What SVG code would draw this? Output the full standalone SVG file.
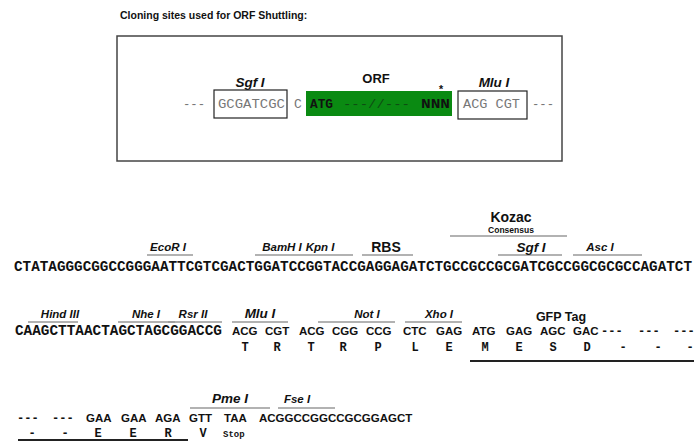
<svg xmlns="http://www.w3.org/2000/svg" width="694" height="442" viewBox="0 0 694 442">
<style>
.t{font-family:"Liberation Sans",Arial,sans-serif;font-weight:bold;fill:#111}
.lab{font-family:"Liberation Sans",Arial,sans-serif;font-weight:bold;font-style:italic;font-size:11.5px;fill:#111;text-anchor:middle}
.big{font-size:13.5px}
.mono{font-family:"Liberation Mono","Courier New",monospace;font-weight:bold;fill:#111}
.seq{font-size:14.3px}
.cod{font-family:"Liberation Sans",Arial,sans-serif;font-weight:bold;font-size:11.5px;fill:#111}
.aa{font-family:"Liberation Mono","Courier New",monospace;font-weight:bold;font-size:12px;fill:#111;text-anchor:middle}
.ul{stroke:#999;stroke-width:1.5}
.gray{font-family:"Liberation Mono","Courier New",monospace;font-size:13px;fill:#777}
.box{fill:#fff;stroke:#222;stroke-width:1.2}
</style>
<rect width="694" height="442" fill="#fff"/>

<g id="title">
<text class="t" x="120" y="19" font-size="10.5">Cloning sites used for ORF Shuttling:</text>
</g>

<g id="orf-panel">
<rect x="117" y="36" width="445" height="125" fill="none" stroke="#444" stroke-width="1.5"/>
<text class="lab big" x="250" y="87">Sgf I</text>
<text class="t" x="376" y="83" font-size="13" text-anchor="middle">ORF</text>
<text class="lab big" x="494" y="87">Mlu I</text>
<text class="gray" x="183" y="108" textLength="22" lengthAdjust="spacingAndGlyphs">---</text>
<rect class="box" x="214" y="90" width="73" height="28"/>
<text class="gray" x="218" y="108" textLength="67" lengthAdjust="spacingAndGlyphs">GCGATCGC</text>
<text class="gray" x="294" y="108">C</text>
<rect x="306" y="91" width="146" height="25" fill="#0a8a12"/>
<text class="mono" x="310" y="108" font-size="13" textLength="23" lengthAdjust="spacingAndGlyphs">ATG</text>
<text x="343" y="108" font-family="Liberation Mono,monospace" font-size="13" fill="#0e4d12" textLength="67" lengthAdjust="spacingAndGlyphs">---//---</text>
<text class="mono" x="421" y="108" font-size="13" textLength="29" lengthAdjust="spacingAndGlyphs">NNN</text>
<text class="mono" x="441" y="93" font-size="11" text-anchor="middle">*</text>
<rect class="box" x="458" y="91" width="69" height="28"/>
<text class="gray" x="463" y="108" textLength="57" lengthAdjust="spacingAndGlyphs">ACG CGT</text>
<text class="gray" x="532" y="108" textLength="22" lengthAdjust="spacingAndGlyphs">---</text>
</g>

<g id="row1">
<line class="ul" x1="147" y1="255" x2="193" y2="255"/>
<line class="ul" x1="255" y1="255" x2="353" y2="255"/>
<line class="ul" x1="362" y1="255" x2="413" y2="255"/>
<line class="ul" x1="450" y1="236" x2="567" y2="236"/>
<line class="ul" x1="498" y1="255" x2="562" y2="255"/>
<line class="ul" x1="573" y1="255" x2="642" y2="255"/>
<text class="lab" x="168" y="251">EcoR I</text>
<text class="lab" x="282" y="251">BamH I</text>
<text class="lab" x="320" y="251">Kpn I</text>
<text class="t" x="386" y="252" font-size="14" text-anchor="middle">RBS</text>
<text class="t" x="511" y="222" font-size="14" text-anchor="middle">Kozac</text>
<text class="t" x="511" y="233" font-size="8.5" text-anchor="middle">Consensus</text>
<text class="lab big" x="531" y="252">Sgf I</text>
<text class="lab" x="600" y="251">Asc I</text>
<text class="mono seq" x="14" y="271" textLength="678" lengthAdjust="spacingAndGlyphs">CTATAGGGCGGCCGGGAATTCGTCGACTGGATCCGGTACCGAGGAGATCTGCCGCCGCGATCGCCGGCGCGCCAGATCT</text>
</g>

<g id="row2">
<line class="ul" x1="28" y1="322" x2="78" y2="322"/>
<line class="ul" x1="118" y1="322" x2="175" y2="322"/>
<line class="ul" x1="168" y1="322" x2="222" y2="322"/>
<line class="ul" x1="232" y1="322" x2="288" y2="322"/>
<line class="ul" x1="318" y1="322" x2="395" y2="322"/>
<line class="ul" x1="405" y1="322" x2="462" y2="322"/>
<text class="lab" x="60" y="318">Hind III</text>
<text class="lab" x="146" y="318">Nhe I</text>
<text class="lab" x="193" y="318">Rsr II</text>
<text class="lab big" x="260" y="318">Mlu I</text>
<text class="lab" x="367" y="318">Not I</text>
<text class="lab" x="439" y="318">Xho I</text>
<text class="t" x="561" y="321" font-size="12.5" text-anchor="middle">GFP Tag</text>
<text class="mono seq" x="15" y="335" textLength="207" lengthAdjust="spacingAndGlyphs">CAAGCTTAACTAGCTAGCGGACCG</text>
<text class="cod" y="335"><tspan x="232">ACG</tspan><tspan x="265">CGT</tspan><tspan x="299">ACG</tspan><tspan x="332">CGG</tspan><tspan x="366">CCG</tspan><tspan x="403">CTC</tspan><tspan x="436">GAG</tspan><tspan x="472">ATG</tspan><tspan x="506">GAG</tspan><tspan x="540">AGC</tspan><tspan x="573">GAC</tspan></text>
<text class="mono" y="335" font-size="12"><tspan x="601">---</tspan><tspan x="638">---</tspan><tspan x="673">---</tspan></text>
<text class="aa" y="351"><tspan x="245">T</tspan><tspan x="277">R</tspan><tspan x="311">T</tspan><tspan x="343">R</tspan><tspan x="378">P</tspan><tspan x="415">L</tspan><tspan x="449">E</tspan><tspan x="485">M</tspan><tspan x="519">E</tspan><tspan x="553">S</tspan><tspan x="587">D</tspan><tspan x="623">-</tspan><tspan x="658">-</tspan><tspan x="690">-</tspan></text>
<line x1="470" y1="361" x2="694" y2="361" stroke="#222" stroke-width="2"/>
</g>

<g id="row3">
<line class="ul" x1="190" y1="408" x2="270" y2="408"/>
<line class="ul" x1="278" y1="408" x2="335" y2="408"/>
<text class="lab big" x="230" y="403">Pme I</text>
<text class="lab" x="297" y="403">Fse I</text>
<text class="mono" y="422" font-size="12"><tspan x="17">---</tspan><tspan x="52">---</tspan></text>
<text class="cod" y="422"><tspan x="86">GAA</tspan><tspan x="121">GAA</tspan><tspan x="155">AGA</tspan><tspan x="189">GTT</tspan><tspan x="224">TAA</tspan><tspan x="259">ACGGCCGGCCGCGGAGCT</tspan></text>
<text class="aa" y="437"><tspan x="32">-</tspan><tspan x="65">-</tspan><tspan x="98">E</tspan><tspan x="133">E</tspan><tspan x="168">R</tspan><tspan x="203">V</tspan></text>
<text class="mono" x="223" y="437" font-size="9">Stop</text>
<line x1="18" y1="440" x2="188" y2="440" stroke="#222" stroke-width="2"/>
</g>
</svg>
